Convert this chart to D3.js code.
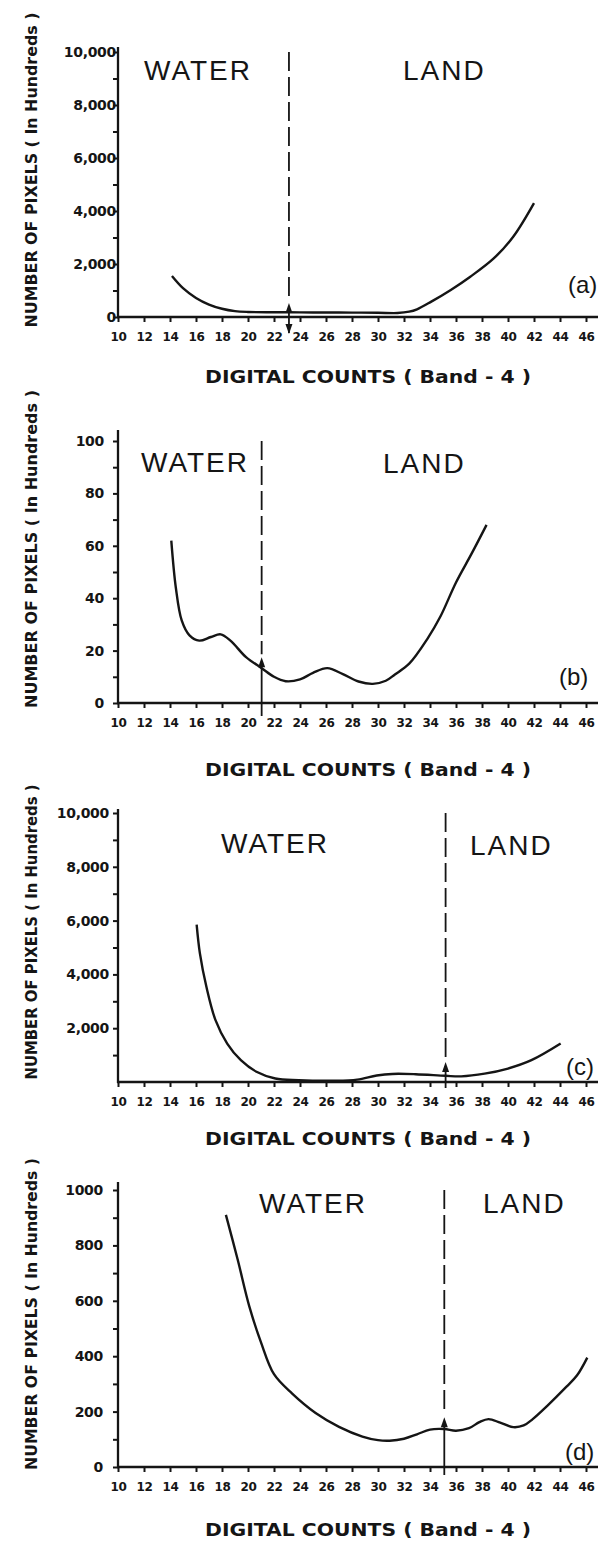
<!DOCTYPE html>
<html>
<head>
<meta charset="utf-8">
<script src="https://cdn.jsdelivr.net/npm/d3@7"></script>
<style>
  body { margin: 0; background: #fff; }
</style>
</head>
<body>
<svg id="chart"></svg>
<script>
// ---- data ----
const xTicks = [10, 12, 14, 16, 18, 20, 22, 24, 26, 28, 30, 32, 34, 36, 38, 40, 42, 44, 46];
const panelNames = ["(a)", "(b)", "(c)", "(d)"];
const yMaxValues = [10000, 100, 10000, 1000];
const yLabelValues = [
    [0, 2000, 4000, 6000, 8000, 10000],
    [0, 20, 40, 60, 80, 100],
    [2000, 4000, 6000, 8000, 10000],
    [0, 200, 400, 600, 800, 1000]
];
const yMinorValues = [
    [1000, 3000, 5000, 7000, 9000],
    [10, 30, 50, 70, 90],
    [1000, 3000, 5000, 7000, 9000],
    [100, 300, 500, 700, 900]
];
// digital count where water ends / land begins, and top of the arrow
const boundaryCounts = [23.15, 21.05, 35.2, 35.1];
const arrowTopValues = [530, 17.5, 745, 180];

const countsA = [14.15, 15, 16, 17, 18, 19, 20, 22, 24, 26, 28, 30, 31.5, 32.4, 33, 34.1, 35.6, 37.1, 38.9, 40.4, 42];
const pixelsA = [1550, 1090, 720, 470, 310, 220, 190, 180, 175, 170, 165, 160, 150, 200, 290, 580, 1020, 1520, 2210, 3030, 4300];

const countsB = [14.1, 14.45, 14.9, 15.5, 16.25, 17.15, 17.9, 18.65, 19.85, 21.05, 22, 22.9, 24, 25, 26.1, 27.3, 28.5, 29.6, 30.6, 31.3, 32.4, 33.8, 34.8, 36, 37.2, 38.35];
const pixelsB = [62, 44, 31.5, 25.8, 23.8, 25.2, 26.2, 23.8, 17.5, 13.3, 10, 8.3, 9, 11.5, 13.3, 11, 8.2, 7.3, 8.5, 10.9, 15, 24.5, 33, 46, 57, 68];

const countsC = [16.05, 16.3, 16.8, 17.5, 18.4, 19.45, 20.65, 22.1, 23.9, 26.6, 28.4, 29.9, 31.1, 32.9, 35.2, 36.4, 38.2, 40, 41.8, 44.05];
const pixelsC = [5850, 4780, 3540, 2300, 1430, 810, 380, 130, 70, 50, 90, 240, 300, 290, 230, 210, 310, 500, 810, 1430];

const countsD = [18.3, 19.2, 20.1, 21, 22, 23.4, 25.2, 27, 28.8, 30, 30.9, 32, 33, 34, 35.1, 36, 37, 37.8, 38.5, 39.4, 40.4, 41.2, 41.9, 43, 44.5, 45.3, 46.1];
const pixelsD = [910, 750, 580, 450, 335, 265, 195, 145, 110, 97, 95, 102, 118, 135, 137, 131, 140, 162, 173, 160, 144, 150, 173, 220, 290, 330, 395];

const curveCounts = [countsA, countsB, countsC, countsD];
const curvePixels = [pixelsA, pixelsB, pixelsC, pixelsD];

// ---- page layout ----
const width = 615;
const height = 1546;
const ink = "#151515";

const panels = [
    { y0: 317, yTop: 52, axisTop: 47, labelX: 116, water: [144, 70], land: [403, 70], tagX: 568, tagY: 285, titleY: 377, yTitleC: 170, yTitleLen: 315, arrowBottom: 16, downHead: true },
    { y0: 703, yTop: 441, axisTop: 430, labelX: 104, water: [141, 462], land: [383, 463], tagX: 559, tagY: 677, titleY: 770, yTitleC: 549, yTitleLen: 318, arrowBottom: 13, downHead: false },
    { y0: 1082, yTop: 813, axisTop: 809, labelX: 109, water: [221, 843], land: [470, 845], tagX: 566, tagY: 1067, titleY: 1139, yTitleC: 932, yTitleLen: 295, arrowBottom: 6, downHead: false },
    { y0: 1467, yTop: 1190, axisTop: 1182, labelX: 103, water: [259, 1203], land: [483, 1203], tagX: 565, tagY: 1452, titleY: 1530, yTitleC: 1314, yTitleLen: 312, arrowBottom: 8, downHead: false }
];

const yFormats = [d3.format(","), d3.format(""), d3.format(","), d3.format("")];

const svg = d3.select("#chart").attr("width", width).attr("height", height);

const x = d3.scaleLinear().domain([10, 46]).range([118, 586]);

const line = d3.line()
    .x(function (d) { return x(d[0]); })
    .curve(d3.curveCatmullRom.alpha(0.5));

panels.forEach(function (p, i) {
    const y = d3.scaleLinear().domain([0, yMaxValues[i]]).range([p.y0, p.yTop]);
    const g = svg.append("g").attr("class", "panel");

    // x axis
    const gx = g.append("g")
        .attr("transform", "translate(0," + p.y0 + ")")
        .call(d3.axisBottom(x).tickValues(xTicks).tickSize(5).tickSizeOuter(0).tickPadding(10));
    gx.select(".domain").remove();
    gx.selectAll("line").attr("stroke", ink).attr("stroke-width", 2);
    gx.selectAll("text")
        .attr("font-family", "DejaVu Sans")
        .attr("font-weight", "bold")
        .attr("font-size", 12)
        .attr("letter-spacing", -0.4)
        .attr("fill", ink);
    g.append("line")
        .attr("x1", x(10) - 1).attr("x2", 598)
        .attr("y1", p.y0).attr("y2", p.y0)
        .attr("stroke", ink).attr("stroke-width", 2.3);

    // y axis
    const gy = g.append("g")
        .attr("transform", "translate(" + x(10) + ",0)")
        .call(d3.axisLeft(y).tickValues(yLabelValues[i].concat(yMinorValues[i])).tickSize(5).tickSizeOuter(0).tickFormat(""));
    gy.select(".domain").remove();
    gy.selectAll("line").attr("stroke", ink).attr("stroke-width", 2);
    g.append("line")
        .attr("x1", x(10)).attr("x2", x(10))
        .attr("y1", p.axisTop).attr("y2", p.y0 + 1)
        .attr("stroke", ink).attr("stroke-width", 2.3);

    g.selectAll(".ylab")
        .data(yLabelValues[i])
        .join("text")
        .attr("class", "ylab")
        .attr("x", p.labelX)
        .attr("y", function (d) { return y(d); })
        .attr("dy", "0.36em")
        .attr("text-anchor", "end")
        .attr("font-family", "DejaVu Sans")
        .attr("font-weight", "bold")
        .attr("font-size", 14)
        .attr("letter-spacing", -0.3)
        .attr("fill", ink)
        .text(yFormats[i]);

    // histogram curve
    const pts = d3.zip(curveCounts[i], curvePixels[i]);
    g.append("path")
        .datum(pts)
        .attr("fill", "none")
        .attr("stroke", ink)
        .attr("stroke-width", 2.4)
        .attr("stroke-linejoin", "round")
        .attr("d", line.y(function (d) { return y(d[1]); }));

    // water / land boundary
    const bx = x(boundaryCounts[i]);
    const aTop = y(arrowTopValues[i]);
    g.append("line")
        .attr("x1", bx).attr("x2", bx)
        .attr("y1", y(yMaxValues[i])).attr("y2", aTop - 3)
        .attr("stroke", ink).attr("stroke-width", 1.8)
        .attr("stroke-dasharray", "19,6");
    g.append("line")
        .attr("x1", bx).attr("x2", bx)
        .attr("y1", aTop + 4).attr("y2", p.y0 + p.arrowBottom)
        .attr("stroke", ink).attr("stroke-width", 1.8);
    g.append("path")
        .attr("d", "M" + (bx - 3.5) + "," + (aTop + 10) + "L" + bx + "," + aTop + "L" + (bx + 3.5) + "," + (aTop + 10) + "Z")
        .attr("fill", ink);
    if (p.downHead) {
        const b = p.y0 + p.arrowBottom;
        g.append("path")
            .attr("d", "M" + (bx - 3.5) + "," + (b - 9) + "L" + bx + "," + (b + 1) + "L" + (bx + 3.5) + "," + (b - 9) + "Z")
            .attr("fill", ink);
    }

    // region words
    [["WATER", p.water], ["LAND", p.land]].forEach(function (w) {
        g.append("text")
            .attr("x", w[1][0])
            .attr("y", w[1][1] + 10)
            .attr("font-family", "Liberation Sans")
            .attr("font-size", 28)
            .attr("letter-spacing", 2)
            .attr("fill", ink)
            .text(w[0]);
    });

    g.append("text")
        .attr("x", p.tagX)
        .attr("y", p.tagY + 8)
        .attr("font-family", "Liberation Sans")
        .attr("font-size", 24)
        .attr("fill", ink)
        .text(panelNames[i]);

    // axis titles
    g.append("text")
        .attr("x", 368)
        .attr("y", p.titleY + 6)
        .attr("text-anchor", "middle")
        .attr("font-family", "DejaVu Sans")
        .attr("font-weight", "bold")
        .attr("font-size", 17)
        .attr("textLength", 326)
        .attr("lengthAdjust", "spacingAndGlyphs")
        .attr("fill", ink)
        .text("DIGITAL COUNTS ( Band - 4 )");

    g.append("text")
        .attr("transform", "translate(37," + p.yTitleC + ") rotate(-90)")
        .attr("text-anchor", "middle")
        .attr("font-family", "DejaVu Sans")
        .attr("font-weight", "bold")
        .attr("font-size", 15)
        .attr("textLength", p.yTitleLen)
        .attr("lengthAdjust", "spacingAndGlyphs")
        .attr("fill", ink)
        .text("NUMBER OF PIXELS ( In Hundreds )");
});
</script>
</body>
</html>
